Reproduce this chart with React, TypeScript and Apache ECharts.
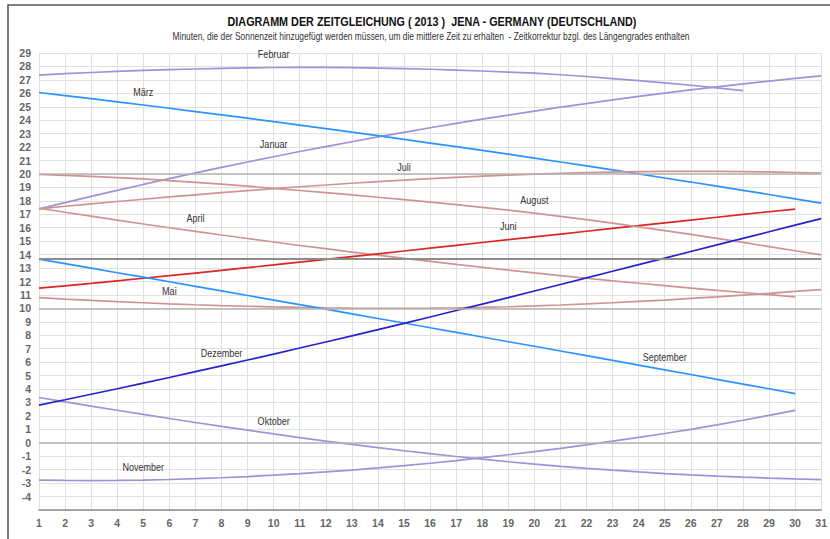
import React, { useEffect, useRef } from "react";
import * as echarts from "echarts";

// Tag des Monats (x-Achse)
const dayTicks = [1, 31];
// Werte (Minuten) je Monat
const januar = [17.40,17.87,18.33,18.78,19.22,19.65,20.08,20.49,20.89,21.28,21.67,22.04,22.40,22.76,23.10,23.44,23.76,24.08,24.38,24.68,24.97,25.24,25.51,25.77,26.01,26.25,26.48,26.70,26.91,27.11,27.30];
const februar = [27.36,27.46,27.55,27.63,27.70,27.76,27.81,27.86,27.89,27.92,27.93,27.93,27.91,27.88,27.84,27.79,27.73,27.66,27.58,27.50,27.38,27.25,27.10,26.95,26.78,26.60,26.40,26.20];
const maerz = [26.06,25.83,25.60,25.37,25.13,24.89,24.64,24.40,24.15,23.89,23.64,23.38,23.11,22.85,22.58,22.30,22.03,21.75,21.47,21.18,20.89,20.60,20.30,20.01,19.70,19.40,19.09,18.78,18.47,18.15,17.83];
const april = [17.45,17.15,16.86,16.57,16.28,16.00,15.73,15.46,15.20,14.94,14.68,14.44,14.19,13.96,13.72,13.50,13.27,13.06,12.85,12.64,12.44,12.24,12.05,11.87,11.69,11.51,11.34,11.18,11.02,10.86];
const mai = [10.80,10.69,10.59,10.50,10.42,10.34,10.27,10.21,10.16,10.11,10.07,10.04,10.02,10.01,10.01,10.02,10.04,10.07,10.12,10.18,10.25,10.33,10.42,10.52,10.62,10.74,10.86,10.99,11.12,11.26,11.40];
const juni = [11.50,11.68,11.86,12.05,12.24,12.43,12.63,12.83,13.03,13.23,13.44,13.64,13.85,14.06,14.27,14.48,14.69,14.90,15.11,15.32,15.53,15.74,15.95,16.15,16.36,16.57,16.78,16.99,17.19,17.39];
const juli = [17.41,17.60,17.78,17.95,18.12,18.29,18.45,18.61,18.76,18.91,19.05,19.18,19.31,19.43,19.54,19.65,19.75,19.84,19.92,19.99,20.05,20.10,20.14,20.17,20.19,20.20,20.20,20.18,20.15,20.11,20.06];
const august = [19.96,19.90,19.82,19.73,19.63,19.51,19.38,19.24,19.09,18.93,18.77,18.61,18.44,18.27,18.09,17.91,17.72,17.52,17.31,17.09,16.85,16.60,16.34,16.07,15.79,15.50,15.21,14.91,14.60,14.29,13.98];
const september = [13.66,13.33,12.99,12.65,12.32,11.98,11.64,11.30,10.96,10.62,10.28,9.94,9.59,9.25,8.91,8.56,8.22,7.87,7.52,7.18,6.83,6.48,6.13,5.78,5.43,5.08,4.72,4.37,4.02,3.66];
const oktober = [3.37,3.05,2.73,2.42,2.11,1.81,1.51,1.22,0.94,0.66,0.39,0.13,-0.12,-0.36,-0.59,-0.81,-1.02,-1.22,-1.41,-1.59,-1.75,-1.90,-2.04,-2.17,-2.29,-2.39,-2.48,-2.56,-2.63,-2.69,-2.74];
const november = [-2.77,-2.80,-2.81,-2.80,-2.77,-2.73,-2.67,-2.60,-2.51,-2.41,-2.30,-2.17,-2.03,-1.87,-1.70,-1.52,-1.32,-1.11,-0.89,-0.66,-0.41,-0.15,0.12,0.40,0.69,1.00,1.33,1.68,2.04,2.41];
const dezember = [2.80,3.20,3.61,4.02,4.44,4.86,5.29,5.72,6.16,6.60,7.05,7.50,7.96,8.42,8.89,9.36,9.84,10.32,10.80,11.29,11.78,12.27,12.76,13.25,13.74,14.23,14.72,15.21,15.70,16.19,16.68];

const monthNames = ["Januar","Februar","März","April","Mai","Juni","Juli","August","September","Oktober","November","Dezember"];
const monthData = [januar, februar, maerz, april, mai, juni, juli, august, september, oktober, november, dezember];
// Tag, an dem die Monatsbeschriftung steht
const labelDays = [10, 10, 5, 7, 6, 19, 15, 20, 25, 10, 5, 8];
// Längengradkorrektur Jena (Minuten) und hervorgehobene Linien
const longitudeCorrection = 13.66;
const majorLines = [0, 10, 20];
const yRange = [-5, 29];

const PURPLE = "#9b94d9";
const ROSE = "#d09393";
const BLUE = "#2a93ff";
const RED = "#dd2626";
const DARKBLUE = "#2424cc";
const monthColors = [PURPLE, PURPLE, BLUE, ROSE, ROSE, RED, ROSE, ROSE, BLUE, PURPLE, PURPLE, DARKBLUE];

const SANS = '"Liberation Sans", Arial, sans-serif';

export default function App() {
  const ref = useRef<HTMLDivElement>(null);
  useEffect(() => {
    if (!ref.current) return;
    const chart = echarts.init(ref.current, null, { renderer: "svg" });
    const lineSeries: any[] = monthData.map((arr, m) => ({
      name: monthNames[m],
      type: "line",
      data: arr.map((v, i) => [i + 1, v]),
      symbol: "none",
      showSymbol: false,
      silent: true,
      z: 3,
      lineStyle: { color: monthColors[m], width: 1.7 },
      itemStyle: { color: monthColors[m] },
    }));
    const refSeries = {
      name: "ref",
      type: "line",
      data: [],
      silent: true,
      z: 1,
      markLine: {
        silent: true,
        symbol: ["none", "none"],
        label: { show: false },
        data: [
          ...majorLines.map((v) => ({ yAxis: v, lineStyle: { color: "#b4b4b4", width: 1.5, type: "solid" } })),
          { yAxis: longitudeCorrection, lineStyle: { color: "#8c8c8c", width: 2, type: "solid" } },
        ],
      },
    };
    const baseGraphic: any[] = [
      {
        type: "rect",
        shape: { x: 8, y: 5, width: 900, height: 600 },
        style: { fill: "none", stroke: "#555", lineWidth: 1.5 },
        silent: true,
      },
      {
        type: "text",
        x: 432,
        y: 22,
        scaleX: 0.9,
        style: {
          text: "DIAGRAMM DER ZEITGLEICHUNG ( 2013 )  JENA - GERMANY (DEUTSCHLAND)",
          fill: "#111",
          font: `bold 12px ${SANS}`,
          align: "center",
          verticalAlign: "middle",
        },
      },
      {
        type: "text",
        x: 431,
        y: 37,
        scaleX: 0.84,
        style: {
          text: "Minuten, die der Sonnenzeit hinzugefügt werden müssen, um die mittlere Zeit zu erhalten  - Zeitkorrektur bzgl. des Längengrades enthalten",
          fill: "#333",
          font: `10px ${SANS}`,
          align: "center",
          verticalAlign: "middle",
        },
      },
    ];
    chart.setOption({
      animation: false,
      backgroundColor: "#fff",
      grid: { left: 39, right: 7, top: 53, bottom: 29 },
      xAxis: {
        type: "value",
        min: dayTicks[0],
        max: dayTicks[1],
        interval: 1,
        axisLine: { onZero: false, lineStyle: { color: "#8a8a8a", width: 1.5 } },
        axisTick: { show: false },
        splitLine: { show: true, lineStyle: { color: "#e0e0e0", width: 1 } },
        axisLabel: { color: "#666", fontWeight: "bold", fontSize: 10.5, fontFamily: SANS, margin: 7 },
      },
      yAxis: {
        type: "value",
        min: yRange[0],
        max: yRange[1],
        interval: 1,
        axisLine: { show: false },
        axisTick: { show: false },
        splitLine: { show: true, lineStyle: { color: "#e0e0e0", width: 1 } },
        axisLabel: {
          showMinLabel: false,
          color: "#666",
          fontWeight: "bold",
          fontSize: 10.5,
          fontFamily: SANS,
          margin: 8,
          padding: [0, 0, 6, 0],
        },
      },
      graphic: baseGraphic,
      series: [refSeries, ...lineSeries],
    });
    // Monatsbeschriftungen an der Kurve, über die Achsen umgerechnet
    const labelGraphic = monthNames.map((n, m) => {
      const p = chart.convertToPixel({ gridIndex: 0 }, [labelDays[m], monthData[m][labelDays[m] - 1]]) as number[];
      return {
        type: "text",
        x: p[0],
        y: p[1] - 13,
        scaleX: 0.86,
        silent: true,
        z: 10,
        style: {
          text: n,
          fill: "#333",
          font: `10.5px ${SANS}`,
          align: "center",
          verticalAlign: "middle",
        },
      };
    });
    chart.setOption({ graphic: [...baseGraphic, ...labelGraphic] });
    return () => chart.dispose();
  }, []);
  return (
    <div
      ref={ref}
      style={{ position: "fixed", left: 0, top: 0, width: 830, height: 539, background: "#fff" }}
    />
  );
}
